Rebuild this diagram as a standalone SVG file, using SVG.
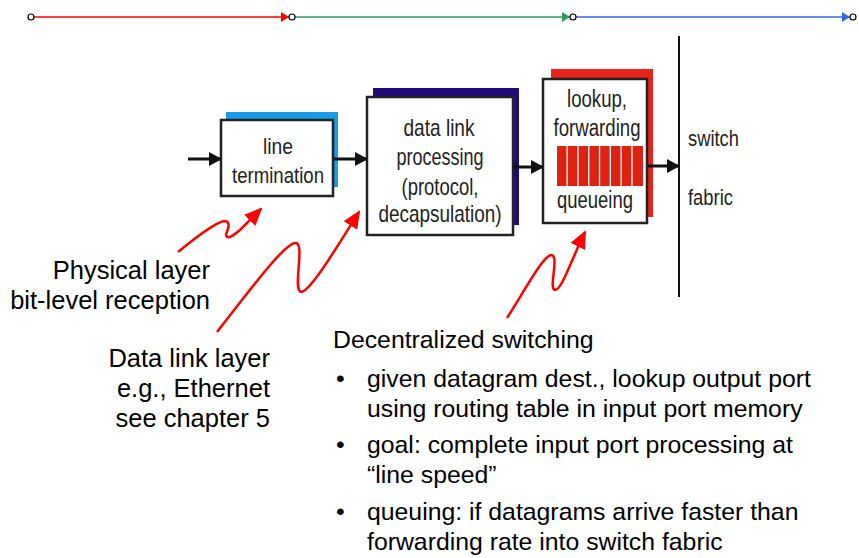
<svg xmlns="http://www.w3.org/2000/svg" width="859" height="558" viewBox="0 0 859 558">
<style>
.box{fill:#fff;stroke:#222;stroke-width:2.5}
.bt{font-family:"Liberation Sans",Arial,sans-serif;font-size:22px;fill:#222;text-anchor:middle}
.b2{font-size:24px}
.b3{font-size:23px}
.sw{font-family:"Liberation Sans",Arial,sans-serif;font-size:22px;fill:#222}
.lbl{font-family:"Liberation Sans",Arial,sans-serif;font-size:24.8px;fill:#000}
.ll{font-size:25.5px}
.r{text-anchor:end}
.flow{stroke:#111;stroke-width:3;fill:none}
.sq{stroke:#ff0000;stroke-width:2.5;fill:none}
.dot{fill:#fff;stroke:#000;stroke-width:1.2}
</style>
<defs>
<marker id="ah" markerWidth="13" markerHeight="14" refX="12" refY="7" orient="auto" markerUnits="userSpaceOnUse" viewBox="0 0 13 14">
<path d="M0,0 L13,7 L0,14 z" fill="#111"/>
</marker>
<marker id="rh" markerWidth="18" markerHeight="16" refX="16" refY="8" orient="auto" markerUnits="userSpaceOnUse" viewBox="0 0 18 16">
<path d="M0,0 L18,8 L0,16 z" fill="#ff0000"/>
</marker>
<marker id="tr" markerWidth="8" markerHeight="10" refX="8" refY="5" orient="auto" markerUnits="userSpaceOnUse"><path d="M0,0 L8,5 L0,10 z" fill="#ff0000"/></marker>
<marker id="tg" markerWidth="8" markerHeight="10" refX="8" refY="5" orient="auto" markerUnits="userSpaceOnUse"><path d="M0,0 L8,5 L0,10 z" fill="#2e9a5c"/></marker>
<marker id="tb" markerWidth="8" markerHeight="10" refX="8" refY="5" orient="auto" markerUnits="userSpaceOnUse"><path d="M0,0 L8,5 L0,10 z" fill="#3366ee"/></marker>
</defs>

<g id="timeline">
<line x1="34" y1="17" x2="289" y2="17" stroke="#ff0000" stroke-width="1.5" marker-end="url(#tr)"/>
<line x1="295" y1="17" x2="570" y2="17" stroke="#2e9a5c" stroke-width="1.5" marker-end="url(#tg)"/>
<line x1="576" y1="17" x2="850" y2="17" stroke="#3366ee" stroke-width="1.5" marker-end="url(#tb)"/>
<circle class="dot" cx="31" cy="17" r="3"/>
<circle class="dot" cx="292" cy="17" r="3"/>
<circle class="dot" cx="573" cy="17" r="3"/>
<circle class="dot" cx="853" cy="17" r="3"/>
</g>

<g id="line-termination">
<rect x="226" y="112" width="112" height="75" fill="#1a9be8"/>
<rect class="box" x="221" y="120" width="112" height="76"/>
<text class="bt" x="278" y="154" textLength="30" lengthAdjust="spacingAndGlyphs">line</text>
<text class="bt" x="278" y="183" textLength="92" lengthAdjust="spacingAndGlyphs">termination</text>
</g>

<g id="data-link-processing">
<rect x="373" y="88" width="146" height="137" fill="#1f0a7a"/>
<rect class="box" x="367" y="97" width="146" height="138"/>
<text class="bt b2" x="439" y="136" textLength="71" lengthAdjust="spacingAndGlyphs">data link</text>
<text class="bt b2" x="440" y="165" textLength="87" lengthAdjust="spacingAndGlyphs">processing</text>
<text class="bt b2" x="440" y="195" textLength="77" lengthAdjust="spacingAndGlyphs">(protocol,</text>
<text class="bt b2" x="440" y="222" textLength="123" lengthAdjust="spacingAndGlyphs">decapsulation)</text>
</g>

<g id="lookup-forwarding">
<rect x="551" y="69" width="102" height="148" fill="#e8231a"/>
<rect class="box" x="543" y="79" width="104" height="144"/>
<text class="bt b3" x="597" y="107" textLength="60" lengthAdjust="spacingAndGlyphs">lookup,</text>
<text class="bt b3" x="597" y="136" textLength="87" lengthAdjust="spacingAndGlyphs">forwarding</text>
<g fill="#dd2211">
<rect x="557" y="146" width="9.5" height="40"/>
<rect x="567.8" y="146" width="9.5" height="40"/>
<rect x="578.6" y="146" width="9.5" height="40"/>
<rect x="589.4" y="146" width="9.5" height="40"/>
<rect x="600.2" y="146" width="9.5" height="40"/>
<rect x="611" y="146" width="9.5" height="40"/>
<rect x="621.8" y="146" width="9.5" height="40"/>
<rect x="632.6" y="146" width="10.4" height="40"/>
</g>
<text class="bt b3" x="595" y="208" textLength="76" lengthAdjust="spacingAndGlyphs">queueing</text>
</g>

<g id="switch-fabric">
<line x1="679" y1="36" x2="679" y2="297" stroke="#111" stroke-width="2"/>
<text class="sw" x="688" y="146" textLength="51" lengthAdjust="spacingAndGlyphs">switch</text>
<text class="sw" x="688" y="205" textLength="45" lengthAdjust="spacingAndGlyphs">fabric</text>
</g>

<g id="connectors">
<line class="flow" x1="188" y1="159" x2="221" y2="159" marker-end="url(#ah)"/>
<line class="flow" x1="334" y1="159" x2="367" y2="159" marker-end="url(#ah)"/>
<line class="flow" x1="514" y1="167" x2="543" y2="167" marker-end="url(#ah)"/>
<line class="flow" x1="648" y1="166" x2="679" y2="166" marker-end="url(#ah)"/>
<path class="sq" d="M178,252 Q212,224 224,221 Q232,221 226,234 Q226,242 240,230 L261,209" marker-end="url(#rh)"/>
<path class="sq" d="M217,332 C250,290 283,245 295,243 C306,241 292,290 301,292 C310,292 335,250 359,212" marker-end="url(#rh)"/>
<path class="sq" d="M507,318 C525,290 543,256 551,255 C560,255 548,289 555,290 C562,290 572,258 585,232" marker-end="url(#rh)"/>
</g>

<g id="physical-label">
<text class="lbl ll r" x="210" y="279">Physical layer</text>
<text class="lbl ll r" x="210" y="309">bit-level reception</text>
</g>

<g id="datalink-label">
<text class="lbl ll r" x="270" y="367">Data link layer</text>
<text class="lbl ll r" x="270" y="397">e.g., Ethernet</text>
<text class="lbl ll r" x="270" y="427">see chapter 5</text>
</g>

<g id="decentralized-text">
<text class="lbl" x="333" y="348">Decentralized switching</text>
<text class="lbl" x="336" y="387">•</text>
<text class="lbl" x="367" y="387">given datagram dest., lookup output port</text>
<text class="lbl" x="367" y="417">using routing table in input port memory</text>
<text class="lbl" x="336" y="453">•</text>
<text class="lbl" x="367" y="453">goal: complete input port processing at</text>
<text class="lbl" x="367" y="483">“line speed”</text>
<text class="lbl" x="336" y="520">•</text>
<text class="lbl" x="367" y="520">queuing: if datagrams arrive faster than</text>
<text class="lbl" x="367" y="550">forwarding rate into switch fabric</text>
</g>
</svg>
